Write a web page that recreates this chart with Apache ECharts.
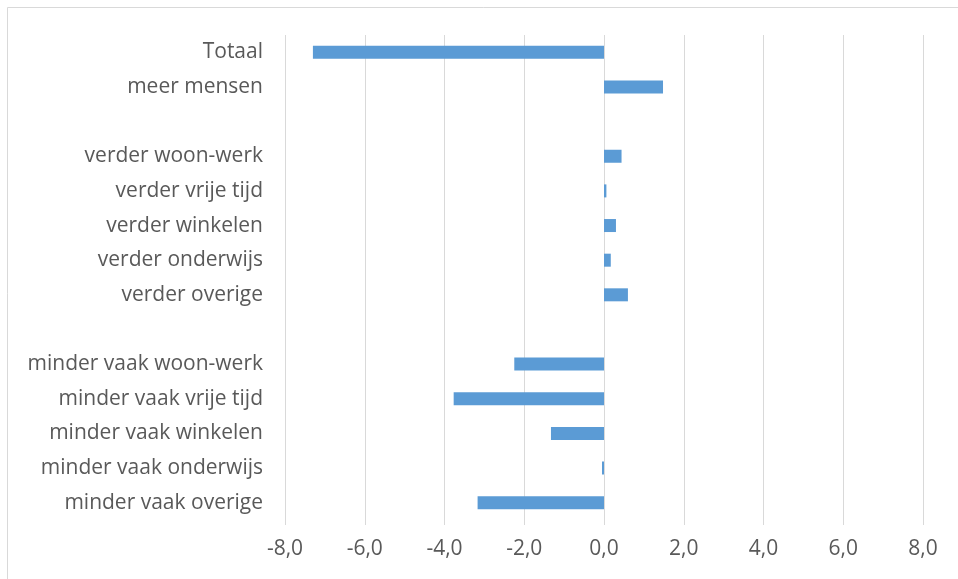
<!DOCTYPE html>
<html>
<head>
<meta charset="utf-8">
<script src="https://cdn.jsdelivr.net/npm/echarts@6/dist/echarts.min.js"></script>
<style>
html,body{margin:0;padding:0;background:#fff;}
#chart{width:958px;height:579px;}
</style>
</head>
<body>
<div id="chart"></div>
<script>
const categories = [
  "Totaal",
  "meer mensen",
  " ",
  "verder woon-werk",
  "verder vrije tijd",
  "verder winkelen",
  "verder onderwijs",
  "verder overige",
  "  ",
  "minder vaak woon-werk",
  "minder vaak vrije tijd",
  "minder vaak winkelen",
  "minder vaak onderwijs",
  "minder vaak overige"
];
const values = [-7.3, 1.48, null, 0.44, 0.06, 0.3, 0.17, 0.6, null, -2.25, -3.77, -1.33, -0.05, -3.17];
const xMin = -8, xMax = 8, xStep = 2;

const chart = echarts.init(document.getElementById('chart'), null, {renderer: 'canvas'});
chart.setOption({
  animation: false,
  backgroundColor: '#ffffff',
  graphic: [{
    type: 'rect',
    shape: {x: 7.5, y: 7.5, width: 1000, height: 700},
    style: {fill: 'none', stroke: '#d9d9d9', lineWidth: 1},
    silent: true
  }],
  grid: {left: 285, right: 35, top: 35, bottom: 59, containLabel: false},
  xAxis: {
    type: 'value',
    min: xMin, max: xMax, interval: xStep,
    axisLine: {show: false},
    axisTick: {show: true, length: 5, lineStyle: {color: '#d9d9d9'}},
    splitLine: {show: true, lineStyle: {color: '#d9d9d9', width: 1}},
    axisLabel: {
      color: '#595959', fontSize: 21, fontFamily: 'Open Sans', margin: 19,
      formatter: v => v.toFixed(1).replace('.', ',')
    }
  },
  yAxis: {
    type: 'category',
    data: categories,
    inverse: true,
    axisLine: {show: false},
    axisTick: {show: false},
    splitLine: {show: false},
    axisLabel: {color: '#595959', fontSize: 21, fontFamily: 'Open Sans', margin: 22}
  },
  series: [{
    type: 'bar',
    data: values,
    barWidth: 13,
    itemStyle: {color: '#5B9BD5'}
  }]
});
</script>
</body>
</html>
